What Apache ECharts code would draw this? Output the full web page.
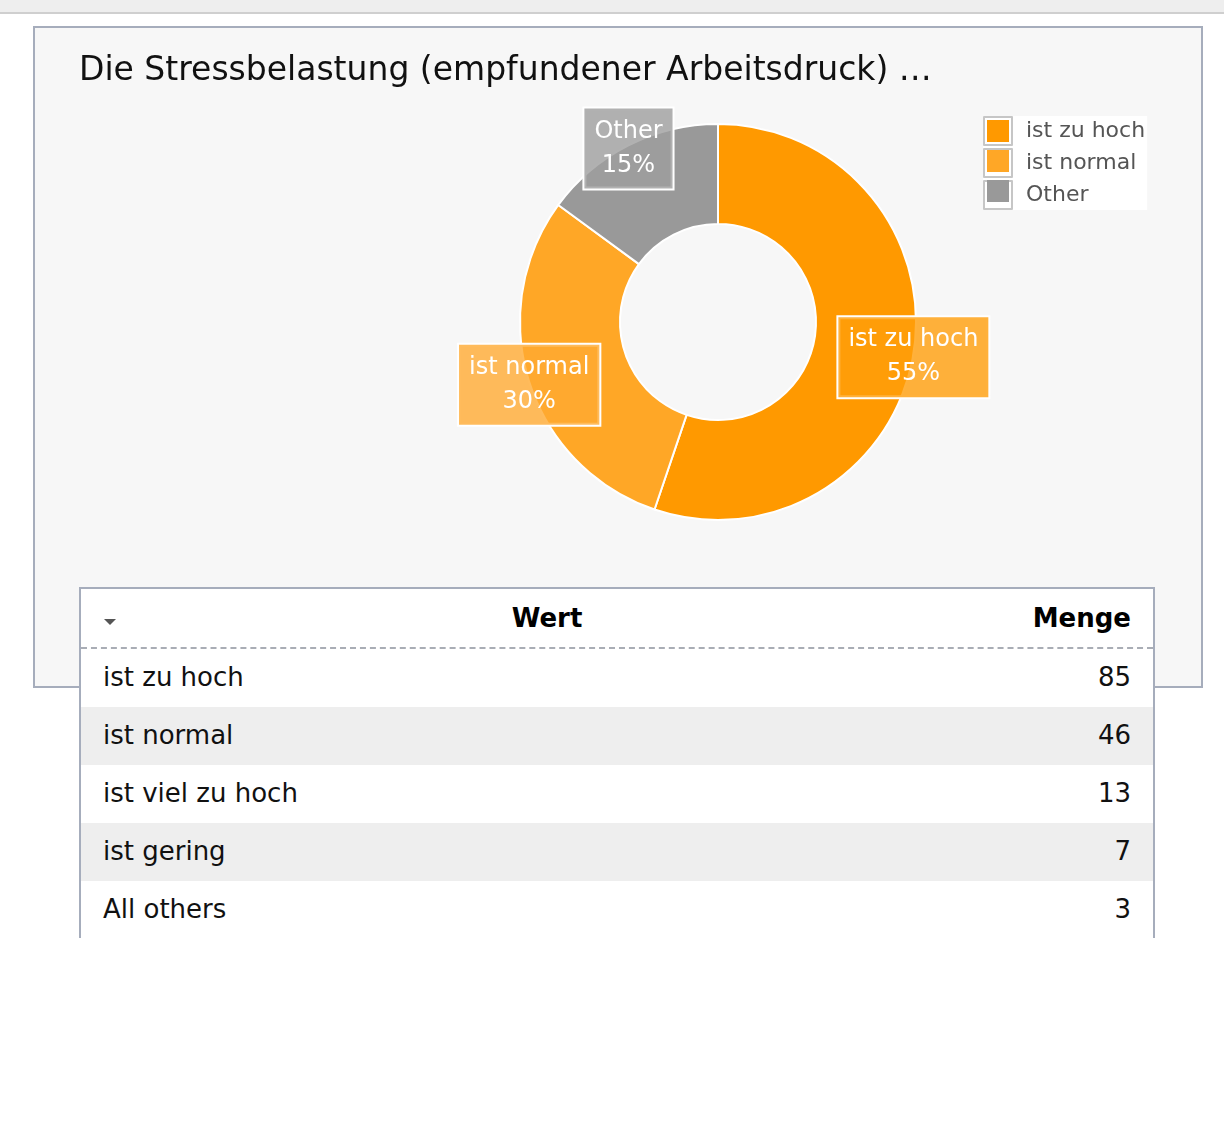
<!DOCTYPE html>
<html lang="de">
<head>
<meta charset="UTF-8">
<title>Stressbelastung</title>
<script src="https://cdn.jsdelivr.net/npm/echarts@6/dist/echarts.min.js"></script>
<style>
  body { margin: 0; background: #fff; font-family: "DejaVu Sans", Verdana, sans-serif; }
  #topbar { position: absolute; left: 0; top: 0; width: 1224px; height: 12px; background: #eeeeee; border-bottom: 2px solid #cfcfcf; }
  #main { position: absolute; left: 33px; top: 26px; width: 1170px; height: 662px; box-sizing: border-box;
          border: 2px solid #a6adbc; background: #f7f7f7; }
  #tbl { position: absolute; left: 79px; top: 587px; width: 1076px; height: 351px; box-sizing: border-box;
         border: 2px solid #a6adbc; border-bottom: none; background: #fff; overflow: hidden; font-size: 26px; color: #111; }
  .hdr { position: relative; display: flex; height: 58px; line-height: 58px; font-weight: bold; border-bottom: 2px dashed #a9adb5; color: #000; }
  .hdr .c1 { width: 932px; text-align: center; }
  .hdr .c2 { flex: 1; text-align: right; padding-right: 22px; }
  .sort { position: absolute; left: 23px; top: 30px; width: 0; height: 0;
          border-left: 6px solid transparent; border-right: 6px solid transparent; border-top: 6px solid #555; }
  .row { display: flex; height: 58px; line-height: 56px; }
  .row.alt { background: #eeeeee; }
  .row .c1 { flex: 1; padding-left: 22px; }
  .row .c2 { padding-right: 22px; text-align: right; }
</style>
</head>
<body>
<div id="topbar"></div>
<div id="main"></div>
<div id="tbl"></div>

<script>
  // values
  var titleText = 'Die Stressbelastung (empfundener Arbeitsdruck) \u2026';
  var pieNames = ['ist zu hoch', 'ist normal', 'Other'];
  var pieValues = [85, 46, 23];
  var pieColors = ['#ff9900', '#ffa726', '#999999'];
  var labelColors = ['rgba(255,157,10,0.8)', 'rgba(255,170,50,0.8)', 'rgba(158,158,158,0.8)'];

  var tableHeader = ['Wert', 'Menge'];
  var tableNames = ['ist zu hoch', 'ist normal', 'ist viel zu hoch', 'ist gering', 'All others'];
  var tableValues = [85, 46, 13, 7, 3];

  // table below the chart
  var tbl = document.getElementById('tbl');
  var html = '<div class="hdr"><span class="sort"></span><div class="c1">' + tableHeader[0] +
             '</div><div class="c2">' + tableHeader[1] + '</div></div>';
  tableNames.forEach(function (n, i) {
    html += '<div class="row' + (i % 2 ? ' alt' : '') + '"><div class="c1">' + n +
            '</div><div class="c2">' + tableValues[i] + '</div></div>';
  });
  tbl.innerHTML = html;

  var chart = echarts.init(document.getElementById('main'));

  var mainData = pieNames.map(function (n, i) {
    return { name: n, value: pieValues[i], itemStyle: { color: pieColors[i] } };
  });
  var labelData = pieNames.map(function (n, i) {
    return { name: n, value: pieValues[i], label: { backgroundColor: labelColors[i] } };
  });

  var font = '"DejaVu Sans", Verdana, sans-serif';

  var option = {
    animation: false,
    title: {
      text: titleText,
      left: 44,
      top: 27,
      padding: 0,
      textStyle: { fontFamily: font, fontSize: 33, fontWeight: 'normal', color: '#111' }
    },
    legend: [{
      // outer frames of the legend swatches
      orient: 'vertical',
      left: 948,
      top: 88,
      padding: [0, 2, 0, 0],
      backgroundColor: '#fff',
      icon: 'rect',
      itemWidth: 28,
      itemHeight: 28,
      itemGap: 2,
      selectedMode: false,
      data: pieNames,
      itemStyle: { color: '#fff', borderColor: '#c6c6c6', borderWidth: 2 },
      textStyle: { fontFamily: font, fontSize: 22, lineHeight: 28, color: '#555', padding: [0, 0, 0, 9] }
    }, {
      // coloured squares inside the frames
      orient: 'vertical',
      left: 952,
      top: 92,
      padding: 0,
      icon: 'rect',
      itemWidth: 22,
      itemHeight: 22,
      itemGap: 8,
      selectedMode: false,
      data: pieNames.map(function (n, i) { return { name: n, itemStyle: { color: pieColors[i] } }; }),
      itemStyle: { borderWidth: 0 },
      textStyle: { fontSize: 10, lineHeight: 10, color: 'rgba(0,0,0,0)' }
    }],
    series: [{
      type: 'pie',
      radius: [98, 198],
      center: [683, 294],
      startAngle: 90,
      clockwise: true,
      silent: true,
      itemStyle: { borderColor: '#fff', borderWidth: 2 },
      label: { show: false },
      labelLine: { show: false },
      emphasis: { disabled: true },
      data: mainData
    }, {
      // thin invisible ring near the outer edge, carries the boxed labels
      type: 'pie',
      radius: [194, 196],
      center: [683, 297],
      startAngle: 90,
      clockwise: true,
      silent: true,
      percentPrecision: 0,
      z: 5,
      itemStyle: { color: 'rgba(0,0,0,0)', borderWidth: 0 },
      label: {
        show: true,
        position: 'inside',
        formatter: '{b}\n{d}%',
        fontFamily: font,
        fontSize: 24,
        lineHeight: 34,
        color: '#fff',
        align: 'center',
        padding: [6, 10, 6, 10],
        borderColor: '#fff',
        borderWidth: 2
      },
      labelLine: { show: false },
      emphasis: { disabled: true },
      data: labelData
    }]
  };

  chart.setOption(option);
</script>
</body>
</html>
